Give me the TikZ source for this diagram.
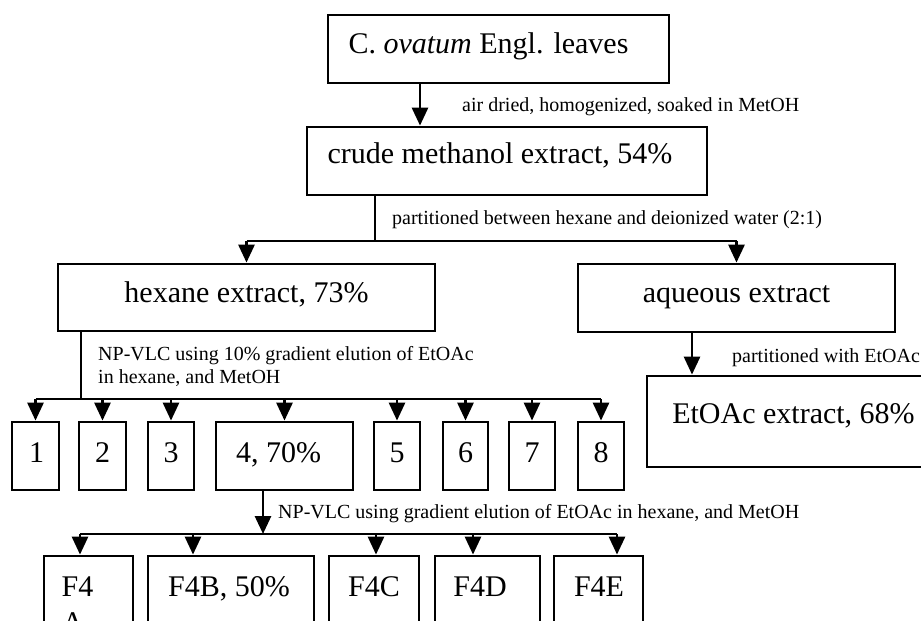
\documentclass[tikz,border=0pt]{standalone}
\usepackage{fontspec}
\setmainfont{Liberation Serif}
\usetikzlibrary{arrows.meta}
\tikzset{
  box/.style={draw, line width=2.8pt, inner sep=0pt, minimum width=#1},
  big/.style={inner sep=0pt, anchor=base, font=\fontsize{30}{36}\selectfont},
  lbl/.style={inner sep=0pt, anchor=base west, font=\fontsize{20}{23}\selectfont},
  ln/.style={line width=2.8pt},
  arr/.style={line width=2.8pt, -{Triangle[width=16pt,length=18pt]}}
}
\begin{document}
\begin{tikzpicture}[x=1pt,y=-1pt]
\useasboundingbox (0,0) rectangle (921,621);
\clip (0,0) rectangle (921,621);
% boxes
\node[box=341, minimum height=68] (leaves) at (498.5,49) {};
\node[box=400, minimum height=68] (crude) at (507,161) {};
\node[box=377, minimum height=67] (hex) at (246.5,297.5) {};
\node[box=317, minimum height=68] (aq) at (736.5,298) {};
\node[box=313, minimum height=91] (et) at (803.5,421.5) {};
\node[box=47, minimum height=68] (f1) at (35.5,456) {};
\node[box=47, minimum height=68] (f2) at (102.5,456) {};
\node[box=46, minimum height=68] (f3) at (171,456) {};
\node[box=137, minimum height=68] (f4) at (284.5,456) {};
\node[box=46, minimum height=68] (f5) at (397,456) {};
\node[box=45, minimum height=68] (f6) at (465.5,456) {};
\node[box=46, minimum height=68] (f7) at (532,456) {};
\node[box=46, minimum height=68] (f8) at (601,456) {};
\node[box=89, minimum height=110] (ga) at (88.5,611) {};
\node[box=166, minimum height=110] (gb) at (231,611) {};
\node[box=90, minimum height=110] (gc) at (374,611) {};
\node[box=105, minimum height=110] (gd) at (487.5,611) {};
\node[box=89, minimum height=110] (ge) at (598.5,611) {};
% box texts
\node[big] (leavesT) at (488.5,53) {C. \textit{ovatum} Engl. leaves};
\node[big] (crudeT) at (500,163) {crude methanol extract, 54\%};
\node[big] (hexT) at (246.5,302) {hexane extract, 73\%};
\node[big] (aqT) at (736.5,302) {aqueous extract};
\node[big] (etT) at (793.5,423) {EtOAc extract, 68\%};
\node[big] (f1T) at (36.5,462) {1};
\node[big] (f2T) at (102.5,462) {2};
\node[big] (f3T) at (171,462) {3};
\node[big] (f4T) at (278.5,462) {4, 70\%};
\node[big] (f5T) at (397,462) {5};
\node[big] (f6T) at (465.5,462) {6};
\node[big] (f7T) at (532,462) {7};
\node[big] (f8T) at (601,462) {8};
\node[big] (gaT) at (77.5,596) {F4};
\node[big] (gaT2) at (73,632) {A};
\node[big] (gbT) at (229,596) {F4B, 50\%};
\node[big] (gcT) at (374,596) {F4C};
\node[big] (gdT) at (480,596) {F4D};
\node[big] (geT) at (599,596) {F4E};
% labels
\node[lbl] (l1) at (462,111) {air dried, homogenized, soaked in MetOH};
\node[lbl] (l2) at (392,224) {partitioned between hexane and deionized water (2:1)};
\node[lbl] (l3) at (98,360) {NP-VLC using 10\% gradient elution of EtOAc};
\node[lbl] (l3b) at (98,383) {in hexane, and MetOH};
\node[lbl] (l4) at (732,362) {partitioned with EtOAc};
\node[lbl] (l5) at (278,518) {NP-VLC using gradient elution of EtOAc in hexane, and MetOH};
% connectors
\coordinate (s1) at (420,0);
\draw[arr] (leaves.south -| s1) -- (crude.north -| s1);
\coordinate (s2) at (375,241);
\draw[ln] (crude.south -| s2) -- (s2);
\draw[ln] (hex.north |- s2) -- (aq.north |- s2);
\draw[arr] (hex.north |- s2) -- (hex.north);
\draw[arr] (aq.north |- s2) -- (aq.north);
\coordinate (s3) at (692,0);
\draw[arr] (aq.south -| s3) -- (et.north -| s3);
\coordinate (s4) at (81,399);
\draw[ln] (hex.south -| s4) -- (s4);
\draw[ln] (f1.north |- s4) -- (f8.north |- s4);
\foreach \f in {f1,f2,f3,f4,f5,f6,f7,f8}
  \draw[arr] (\f.north |- s4) -- (\f.north);
\coordinate (s5) at (263,534);
\draw[arr] (f4.south -| s5) -- (s5);
\coordinate (ta) at (80,534);
\coordinate (tb) at (193,534);
\coordinate (tc) at (376,534);
\coordinate (td) at (473,534);
\coordinate (te) at (617,534);
\draw[ln] (ta) -- (te);
\draw[arr] (ta) -- (ta |- ga.north);
\draw[arr] (tb) -- (tb |- gb.north);
\draw[arr] (tc) -- (tc |- gc.north);
\draw[arr] (td) -- (td |- gd.north);
\draw[arr] (te) -- (te |- ge.north);
\end{tikzpicture}
\end{document}
